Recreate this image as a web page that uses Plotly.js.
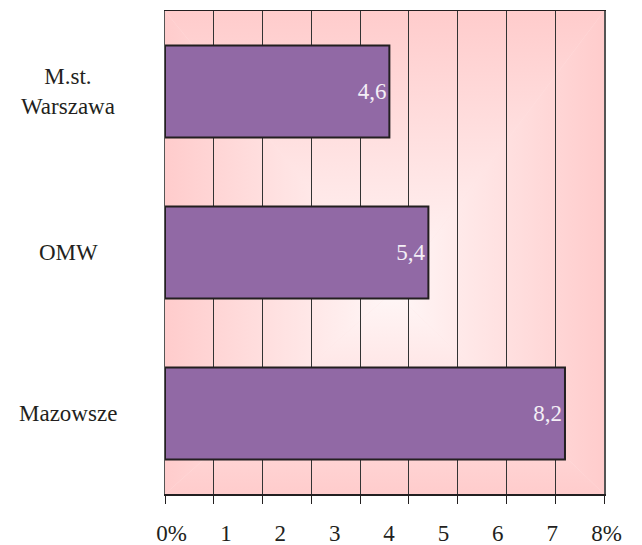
<!DOCTYPE html>
<html>
<head>
<meta charset="utf-8">
<script src="https://cdn.plot.ly/plotly-3.0.1.min.js"></script>
<style>
  html, body { margin: 0; padding: 0; background: #ffffff; }
  #chart { width: 642px; height: 545px; }
  #chart text { font-family: "Liberation Serif", "Times New Roman", "DejaVu Serif", serif !important; }
</style>
</head>
<body>
<div id="chart"></div>
<script>
// ---- data ----
var categories = ['M.st. Warszawa', 'OMW', 'Mazowsze'];
var categoryLabels = ['M.st.<br>Warszawa', 'OMW', 'Mazowsze'];
var values = [4.6, 5.4, 8.2];
var gridVals = [0, 1, 2, 3, 4, 5, 6, 7, 8, 9];
var tickLabelVals = [0, 1, 2, 3, 4, 5, 6, 7, 8];
var tickLabelText = ['0%', '1', '2', '3', '4', '5', '6', '7', '8%'];

var FONT = '"Liberation Serif", "Times New Roman", "DejaVu Serif", serif';

// rectangular "from center" gradient background
var cx = 52, cy = 58, edge = '#ffcccc', mid = '#fff7f7';
var svg = '<svg xmlns="http://www.w3.org/2000/svg" viewBox="0 0 100 100" preserveAspectRatio="none">' +
  '<defs>' +
  '<linearGradient id="t" gradientUnits="userSpaceOnUse" x1="0" y1="0" x2="0" y2="' + cy + '"><stop offset="0" stop-color="' + edge + '"/><stop offset="1" stop-color="' + mid + '"/></linearGradient>' +
  '<linearGradient id="b" gradientUnits="userSpaceOnUse" x1="0" y1="100" x2="0" y2="' + cy + '"><stop offset="0" stop-color="' + edge + '"/><stop offset="1" stop-color="' + mid + '"/></linearGradient>' +
  '<linearGradient id="l" gradientUnits="userSpaceOnUse" x1="0" y1="0" x2="' + cx + '" y2="0"><stop offset="0" stop-color="' + edge + '"/><stop offset="1" stop-color="' + mid + '"/></linearGradient>' +
  '<linearGradient id="r" gradientUnits="userSpaceOnUse" x1="100" y1="0" x2="' + cx + '" y2="0"><stop offset="0" stop-color="' + edge + '"/><stop offset="1" stop-color="' + mid + '"/></linearGradient>' +
  '</defs>' +
  '<rect x="0" y="0" width="100" height="100" fill="#ffe4e4"/>' +
  '<polygon points="0,0 100,0 ' + cx + ',' + cy + '" fill="url(#t)"/>' +
  '<polygon points="0,100 100,100 ' + cx + ',' + cy + '" fill="url(#b)"/>' +
  '<polygon points="0,0 0,100 ' + cx + ',' + cy + '" fill="url(#l)"/>' +
  '<polygon points="100,0 100,100 ' + cx + ',' + cy + '" fill="url(#r)"/>' +
  '</svg>';
var bgSrc = 'data:image/svg+xml;charset=utf-8,' + encodeURIComponent(svg);

var plotW = 642 - 165 - 20;
var mainDomainEnd = 439 / plotW;

var traces = [
  {
    type: 'bar',
    orientation: 'h',
    y: categories,
    x: values,
    xaxis: 'x',
    yaxis: 'y',
    text: values.map(function (v) { return v.toFixed(1).replace('.', ','); }),
    textposition: 'inside',
    insidetextanchor: 'end',
    textangle: 0,
    textfont: { family: FONT, size: 23, color: '#f4eff6' },
    marker: { color: '#9169a5', line: { color: '#231f20', width: 2 } },
    hoverinfo: 'skip',
    showlegend: false
  },
  {
    type: 'scatter',
    mode: 'markers',
    x: tickLabelVals,
    y: tickLabelVals.map(function () { return categories[0]; }),
    xaxis: 'x2',
    yaxis: 'y',
    marker: { opacity: 0, size: 1 },
    hoverinfo: 'skip',
    showlegend: false
  }
];

var layout = {
  width: 642,
  height: 545,
  margin: { l: 165, r: 20, t: 11, b: 51, pad: 0 },
  paper_bgcolor: '#ffffff',
  plot_bgcolor: 'rgba(0,0,0,0)',
  font: { family: FONT, size: 23, color: '#231f20' },
  bargap: 0.43,
  showlegend: false,
  xaxis: {
    domain: [0, mainDomainEnd],
    range: [0, 9],
    tickmode: 'array',
    tickvals: gridVals,
    showticklabels: false,
    ticks: 'outside',
    ticklen: 8,
    tickwidth: 1,
    tickcolor: '#231f20',
    showgrid: true,
    gridcolor: '#333333',
    gridwidth: 1,
    showline: true,
    linecolor: '#231f20',
    linewidth: 1.5,
    mirror: true,
    zeroline: false,
    fixedrange: true
  },
  xaxis2: {
    anchor: 'y',
    domain: [6.6 / plotW, 441.6 / plotW],
    range: [0, 8],
    tickmode: 'array',
    tickvals: tickLabelVals,
    ticktext: tickLabelText,
    ticks: '',
    ticklabelstandoff: 23,
    showgrid: false,
    showline: false,
    zeroline: false,
    tickfont: { family: FONT, size: 23, color: '#231f20' },
    fixedrange: true
  },
  yaxis: {
    type: 'category',
    categoryorder: 'array',
    categoryarray: categories,
    autorange: 'reversed',
    showticklabels: false,
    ticks: '',
    showgrid: false,
    showline: true,
    linecolor: '#555555',
    linewidth: 1.5,
    mirror: true,
    zeroline: false,
    fixedrange: true
  },
  images: [{
    source: bgSrc,
    xref: 'paper', yref: 'paper',
    x: 0, y: 1,
    sizex: mainDomainEnd, sizey: 1,
    sizing: 'stretch',
    xanchor: 'left', yanchor: 'top',
    layer: 'below'
  }],
  annotations: categories.map(function (c, i) {
    return {
      xref: 'paper', yref: 'y',
      x: (68 - 165) / plotW,
      y: c,
      text: categoryLabels[i],
      showarrow: false,
      xanchor: 'center',
      yanchor: 'middle',
      align: 'center',
      font: { family: FONT, size: 23, color: '#231f20' }
    };
  })
};

Plotly.newPlot('chart', traces, layout, { displayModeBar: false, staticPlot: true });
</script>
</body>
</html>
